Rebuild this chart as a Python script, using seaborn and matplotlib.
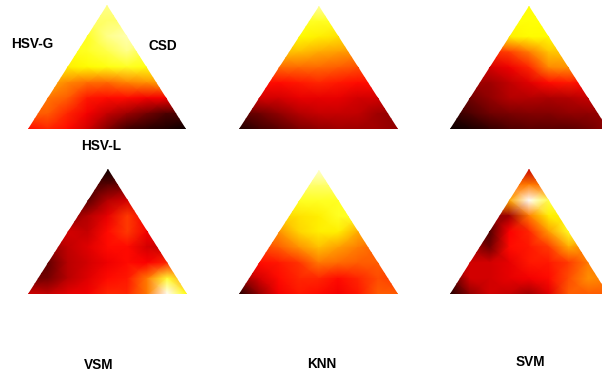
import numpy as np
import matplotlib
matplotlib.use("Agg")
import matplotlib.pyplot as plt
from matplotlib.patches import Polygon
import seaborn as sns

# each panel: 9 rows apex to base, 9 columns left to right (hot colormap value 0-1)
# only the part inside the triangle shows, the rest just repeats the edge value
grid_top_left = [
 [.88,.88,.88,.88,.88,.88,.88,.88,.88],
 [.85,.85,.85,.85,.85,.85,.85,.85,.85],
 [.78,.78,.78,.78,.88,.92,.92,.92,.92],
 [.76,.76,.76,.78,.82,.88,.80,.80,.80],
 [.72,.72,.72,.74,.76,.78,.76,.76,.76],
 [.62,.62,.57,.53,.52,.56,.58,.60,.60],
 [.54,.54,.50,.40,.38,.38,.35,.35,.35],
 [.50,.50,.42,.35,.28,.22,.16,.10,.10],
 [.38,.42,.38,.30,.18,.08,.05,.03,.00],
]
grid_top_mid = [
 [.90,.90,.90,.90,.90,.90,.90,.90,.90],
 [.78,.78,.78,.78,.78,.78,.78,.78,.78],
 [.72,.72,.72,.74,.72,.70,.70,.70,.70],
 [.65,.65,.65,.65,.62,.60,.58,.58,.58],
 [.52,.52,.52,.52,.52,.50,.48,.48,.48],
 [.38,.38,.38,.40,.42,.40,.38,.38,.38],
 [.30,.30,.30,.33,.33,.33,.30,.30,.30],
 [.12,.15,.20,.25,.28,.28,.27,.22,.20],
 [.03,.08,.12,.17,.20,.22,.22,.22,.20],
]
grid_top_right = [
 [.75,.75,.75,.75,.75,.75,.75,.75,.75],
 [.75,.75,.75,.75,.75,.75,.75,.75,.75],
 [.72,.72,.72,.72,.74,.74,.74,.74,.74],
 [.42,.42,.42,.46,.55,.66,.66,.66,.66],
 [.30,.30,.30,.34,.42,.57,.58,.58,.58],
 [.22,.22,.22,.27,.32,.38,.40,.36,.36],
 [.15,.15,.20,.25,.25,.24,.25,.28,.28],
 [.05,.10,.15,.17,.18,.18,.20,.20,.20],
 [.00,.02,.06,.10,.12,.12,.12,.15,.20],
]
grid_bot_left = [
 [.00,.00,.00,.00,.00,.00,.00,.00,.00],
 [.10,.10,.10,.10,.12,.15,.15,.15,.15],
 [.12,.12,.12,.12,.25,.30,.30,.30,.30],
 [.18,.18,.18,.25,.33,.45,.35,.35,.35],
 [.30,.30,.30,.28,.38,.45,.35,.35,.35],
 [.20,.20,.27,.32,.38,.38,.30,.28,.28],
 [.12,.13,.26,.30,.34,.38,.36,.42,.50],
 [.15,.16,.26,.32,.38,.40,.55,.80,.60],
 [.30,.28,.33,.35,.42,.42,.55,1.0,.75],
]
grid_bot_mid = [
 [.95,.95,.95,.95,.95,.95,.95,.95,.95],
 [.85,.85,.85,.85,.85,.85,.85,.85,.85],
 [.78,.78,.78,.78,.78,.78,.78,.78,.78],
 [.68,.68,.68,.70,.72,.78,.78,.78,.78],
 [.58,.58,.58,.68,.72,.72,.62,.62,.62],
 [.45,.45,.50,.58,.65,.60,.55,.50,.50],
 [.38,.38,.40,.44,.54,.52,.50,.50,.45],
 [.20,.30,.38,.42,.42,.38,.42,.48,.45],
 [.03,.20,.35,.40,.38,.35,.40,.50,.50],
]
grid_bot_right = [
 [.28,.28,.28,.28,.28,.28,.28,.28,.28],
 [.52,.52,.52,.52,.55,.52,.52,.52,.52],
 [.60,.60,.60,.62,1.0,.82,.82,.82,.82],
 [.20,.20,.20,.22,.55,.72,.72,.72,.72],
 [.10,.10,.10,.36,.42,.60,.78,.78,.78],
 [.25,.25,.15,.38,.40,.45,.62,.55,.55],
 [.30,.30,.30,.33,.40,.40,.45,.55,.55],
 [.10,.30,.30,.33,.35,.38,.48,.58,.55],
 [.03,.20,.30,.28,.22,.32,.50,.50,.50],
]
panel_grids = [grid_top_left, grid_top_mid, grid_top_right,
               grid_bot_left, grid_bot_mid, grid_bot_right]

# triangle boxes in pixels: left, right, apex y, base y
boxes = [(28, 186, 5, 129), (239, 398, 6, 129), (450, 608, 6, 129),
         (28, 187, 169, 294), (239, 398, 170, 294), (450, 608, 169, 294)]

W, H = 602, 372
fig = plt.figure(figsize=(W/100, H/100), dpi=100, facecolor='white')

for grid, (x0, x1, ytop, ybase) in zip(panel_grids, boxes):
    ax = fig.add_axes([x0/W, 1-ybase/H, (x1-x0)/W, (ybase-ytop)/H])
    sns.heatmap(np.array(grid), ax=ax, cmap='hot', vmin=0, vmax=1, cbar=False,
                xticklabels=False, yticklabels=False, shading='gouraud')
    ax.set_xlim(0, 8)
    ax.set_ylim(8, 0)
    ax.axis('off')
    tri = Polygon([(0, 8), (4, 0), (8, 8)], closed=True, transform=ax.transData,
                  fc='none', ec='none')
    ax.add_patch(tri)
    ax.collections[0].set_clip_path(tri)

labels = [('HSV-G', 32, 44), ('CSD', 163, 46), ('HSV-L', 101, 146),
          ('VSM', 99, 365), ('KNN', 322, 364), ('SVM', 530, 362)]
for txt, px, py in labels:
    fig.text(px/W, 1-py/H, txt, ha='center', va='center', fontsize=9.8,
             fontweight='bold', family='Liberation Sans', color='black')

fig.savefig('out.png', dpi=100)
